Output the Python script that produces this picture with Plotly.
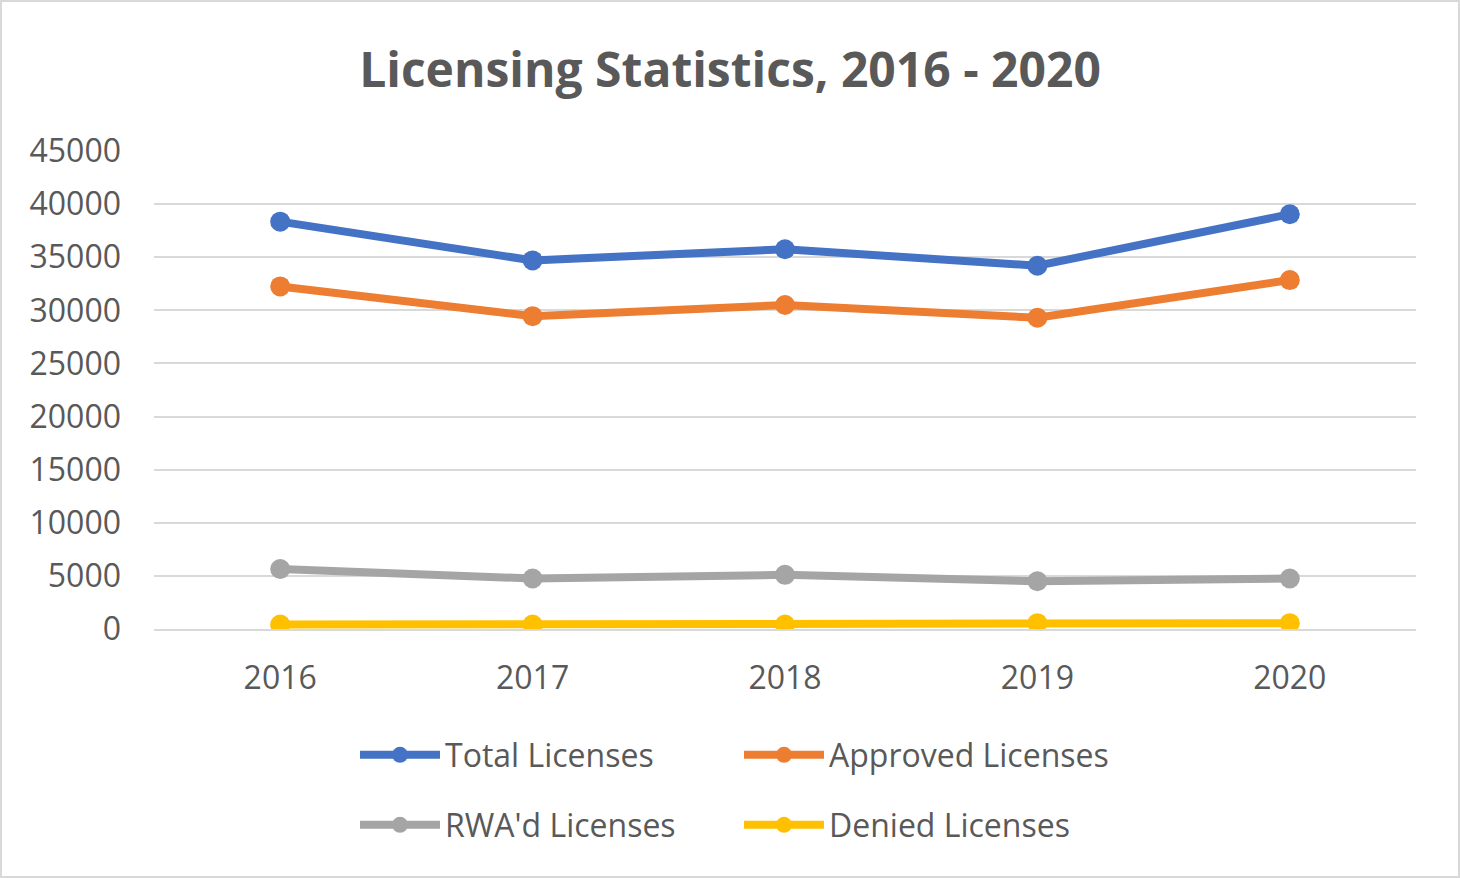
import plotly.graph_objects as go

years = ["2016", "2017", "2018", "2019", "2020"]
total = [38350, 34700, 35750, 34200, 39050]
approved = [32250, 29450, 30500, 29300, 32850]
rwad = [5650, 4750, 5100, 4500, 4750]
denied = [420, 420, 420, 550, 550]

series = [
    ("Total Licenses", total, "#4472C4", "legend"),
    ("Approved Licenses", approved, "#ED7D31", "legend"),
    ("RWA'd Licenses", rwad, "#A5A5A5", "legend2"),
    ("Denied Licenses", denied, "#FFC000", "legend2"),
]

FONT = "Open Sans, sans-serif"
TXT = "#595959"
W, H = 1460, 878
L, R, T, B = 154, 44, 151, 249
PW, PH = W - L - R, H - T - B

fig = go.Figure()
for name, vals, col, lg in series:
    fig.add_trace(go.Scatter(
        x=years, y=vals, name=name, mode="lines+markers",
        line=dict(color=col, width=8),
        marker=dict(color=col, size=20),
        legend=lg,
    ))

def px(x):
    return (x - L) / PW

def py(y):
    return (H - B - y) / PH

fig.update_layout(
    width=W, height=H,
    margin=dict(l=L, r=R, t=T, b=B),
    paper_bgcolor="white", plot_bgcolor="white",
    font=dict(family=FONT, color=TXT, size=32),
    title=dict(text="<b>Licensing Statistics, 2016 - 2020</b>",
               x=0.5, xref="container", xanchor="center",
               y=1 - 70 / H, yref="container", yanchor="middle",
               font=dict(size=48, color=TXT, family=FONT)),
    xaxis=dict(type="category", range=[-0.5, 4.5], showgrid=False,
               showline=True, linecolor="#D9D9D9", linewidth=2,
               ticks="", ticklabelstandoff=20,
               tickfont=dict(size=32, color=TXT)),
    yaxis=dict(range=[0, 45000], dtick=5000, tickformat="d", showgrid=True,
               gridcolor="#D9D9D9", gridwidth=2, zeroline=False,
               showline=False, ticks="", ticklabelstandoff=32,
               tickfont=dict(size=32, color=TXT)),
    legend=dict(orientation="h", x=px(355), xanchor="left",
                y=py(755), yanchor="middle", entrywidth=289, itemwidth=80,
                font=dict(size=32, color=TXT), bgcolor="rgba(0,0,0,0)"),
    legend2=dict(orientation="h", x=px(355), xanchor="left",
                 y=py(825), yanchor="middle", entrywidth=289, itemwidth=80,
                 font=dict(size=32, color=TXT), bgcolor="rgba(0,0,0,0)"),
    shapes=[dict(type="rect", xref="paper", yref="paper",
                 x0=px(1), x1=px(W - 1), y0=py(H - 1), y1=py(1),
                 line=dict(color="#D9D9D9", width=2), layer="below")],
)

fig.write_html("out.html", config={"displayModeBar": False},
               post_script="document.body.style.margin='0px';document.body.style.overflow='hidden';")
